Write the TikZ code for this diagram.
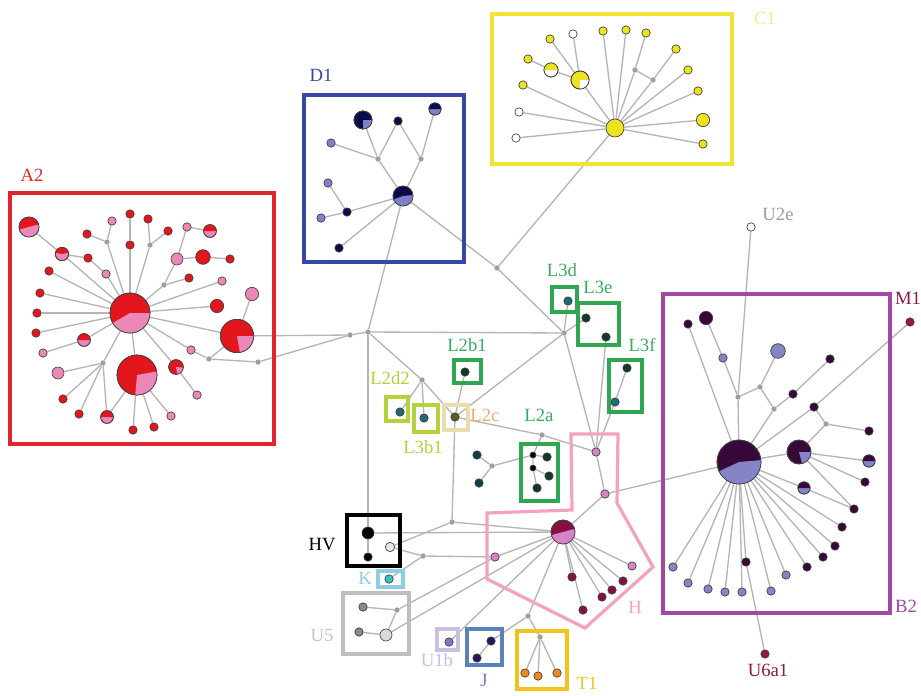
\documentclass[tikz,border=0pt]{standalone}
\usepackage{fontspec}
\setmainfont{Liberation Serif}
\usetikzlibrary{backgrounds}

% haplotype fills
\definecolor{aRed}{HTML}{E3161E}
\definecolor{aPink}{HTML}{EC88B8}
\definecolor{dNavy}{HTML}{0B0B48}
\definecolor{dLav}{HTML}{7F80CC}
\definecolor{cYel}{HTML}{EDE220}
\definecolor{bDark}{HTML}{380838}
\definecolor{bLav}{HTML}{8484C6}
\definecolor{hMar}{HTML}{861043}
\definecolor{hPink}{HTML}{D584C8}
\definecolor{lDark}{HTML}{0E3A27}
\definecolor{lTeal}{HTML}{1D6B74}
\definecolor{lOlive}{HTML}{5D5B1F}
\definecolor{kCyan}{HTML}{35BFC8}
\definecolor{uGrey}{HTML}{8A8A8A}
\definecolor{uLav}{HTML}{7A78C8}
\definecolor{jNavy}{HTML}{2A1660}
\definecolor{tOrange}{HTML}{F08A1E}
\definecolor{mMaroon}{HTML}{9A1540}
% frames
\definecolor{boxA}{HTML}{E0262C}
\definecolor{boxD}{HTML}{3A46A6}
\definecolor{boxC}{HTML}{F2E434}
\definecolor{boxB}{HTML}{A048A4}
\definecolor{boxL}{HTML}{2FA64F}
\definecolor{boxLg}{HTML}{B4D23C}
\definecolor{boxLc}{HTML}{ECDCAC}
\definecolor{boxK}{HTML}{8CCFE0}
\definecolor{boxU}{HTML}{BEBEBE}
\definecolor{boxUb}{HTML}{CCBEE2}
\definecolor{boxJ}{HTML}{5C80BA}
\definecolor{boxT}{HTML}{F4C21C}
\definecolor{boxH}{HTML}{F4A2C2}
% label text
\definecolor{txtC}{HTML}{F4EA84}
\definecolor{txtL}{HTML}{3DAA62}
\definecolor{txtLc}{HTML}{F0AA70}
\definecolor{txtJ}{HTML}{7282B4}
\definecolor{txtU}{HTML}{C4C4C4}
\definecolor{txtM}{HTML}{8C1A48}

\tikzset{
    hap/.style={circle, draw=black!75, line width=0.5pt, inner sep=0pt, minimum size=6.3pt},
    med/.style={circle, fill=gray!75, inner sep=0pt, minimum size=4pt},
    link/.style={draw=gray!58, line width=1pt},
    frame/.style={draw, line width=2.4pt},
    tag/.style={font=\fontsize{14}{16}\selectfont, inner sep=0pt}
}

% pie haplotype: name, position, radius, base colour, wedge colour, start, end
\newcommand{\piehap}[7]{%
    \node[hap, fill=#4, minimum size=2*#3] (#1) at (#2) {};
    \fill[#5] (#1.center) -- ++(#6:#3) arc[start angle=#6, end angle=#7, radius=#3] -- cycle;
    \draw[black!75, line width=0.5pt] (#1.center) circle[radius=#3];
}

\begin{document}
\begin{tikzpicture}[x=0.75pt, y=-0.75pt]
\begin{scope}[on background layer]
    \fill[white] (0,0) rectangle (921,696);
\end{scope}
\useasboundingbox (0,0) rectangle (921,696);

% === A2 ===
\piehap{aHub}{130,313}{15pt}{aRed}{aPink}{-150}{0}
\piehap{aBig}{137,375}{15pt}{aRed}{aPink}{-95}{10}
\piehap{aSide}{237,336}{12.5pt}{aRed}{aPink}{-80}{0}
\piehap{aTop}{29,227}{7.5pt}{aRed}{aPink}{-165}{15}
\piehap{aP1}{62,254}{5pt}{aPink}{aRed}{10}{170}
\piehap{aP2}{210,231}{4.8pt}{aPink}{aRed}{0}{180}
\piehap{aP3}{84,340}{4.8pt}{aPink}{aRed}{0}{180}
\piehap{aP4}{107,417}{4.8pt}{aPink}{aRed}{0}{180}
\piehap{aP5}{176,367}{5.5pt}{aRed}{aPink}{-80}{-5}
\foreach \n/\p/\c in {1/{88,258}/aRed, 2/{87,234}/aRed, 3/{112,221}/aPink, 4/{130,214}/aRed,
    5/{130,245}/aRed, 6/{148,219}/aRed, 7/{168,231}/aRed, 8/{187,227}/aPink, 11/{230,259}/aRed,
    12/{189,278}/aRed, 13/{222,281}/aPink, 14/{106,274}/aPink, 15/{49,271}/aRed, 16/{40,293}/aRed,
    17/{37,313}/aRed, 18/{36,333}/aRed, 21/{43,353}/aPink, 23/{63,399}/aRed, 24/{79,414}/aRed,
    25/{133,430}/aRed, 26/{154,427}/aRed, 27/{171,416}/aPink, 28/{197,395}/aPink, 29/{191,350}/aPink}
    \node[hap, fill=\c] (a\n) at (\p) {};
\node[hap, fill=aPink, minimum size=9pt] (a9) at (177,259) {};
\node[hap, fill=aRed, minimum size=11pt] (a10) at (203,257) {};
\node[hap, fill=aRed, minimum size=10pt] (a19) at (217,306) {};
\node[hap, fill=aPink, minimum size=10pt] (a20) at (252,294) {};
\node[hap, fill=aPink, minimum size=9pt] (a22) at (58,373) {};
\node[med] (am1) at (107,242) {};
\node[med] (am2) at (150,245) {};
\node[med] (am3) at (164,285) {};
\node[med] (am4) at (103,363) {};
\node[med] (am5) at (209,359) {};
\node[med] (am6) at (258,362) {};

% === D1 ===
\piehap{dHub}{403,196}{7.5pt}{dNavy}{dLav}{-160}{5}
\piehap{dP1}{363,120}{6.8pt}{dNavy}{dLav}{-90}{0}
\piehap{dP2}{435,109}{4.6pt}{dLav}{dNavy}{0}{180}
\node[hap, fill=dNavy] (d1) at (398,121) {};
\node[hap, fill=dLav] (d2) at (331,143) {};
\node[hap, fill=dLav] (d3) at (328,183) {};
\node[hap, fill=dNavy] (d4) at (347,212) {};
\node[hap, fill=dLav] (d5) at (321,218) {};
\node[hap, fill=dNavy] (d6) at (339,248) {};
\node[med] (dm1) at (378,159) {};
\node[med] (dm2) at (421,159) {};

% === C1 ===
\node[hap, fill=cYel, minimum size=13.5pt] (cHub) at (615,128) {};
\piehap{cP1}{551,70}{5.3pt}{white}{cYel}{0}{180}
\piehap{cP2}{580,80}{6.8pt}{cYel}{white}{-90}{0}
\foreach \n/\p/\c in {1/{550,39}/cYel, 2/{573,34}/white, 3/{528,59}/cYel, 4/{523,85}/cYel,
    5/{519,112}/white, 6/{516,138}/white, 7/{603,31}/cYel, 8/{626,30}/cYel, 9/{646,33}/cYel,
    10/{676,49}/cYel, 11/{688,70}/cYel, 12/{698,91}/cYel, 14/{703,144}/cYel}
    \node[hap, fill=\c] (c\n) at (\p) {};
\node[hap, fill=cYel, minimum size=10pt] (c13) at (703,120) {};
\node[med] (cq1) at (635,70) {};
\node[med] (cq2) at (653,80) {};

% === central medians and L ===
\node[med] (g1) at (350,335) {};
\node[med] (g0) at (368,332) {};
\node[med] (g3) at (564,333) {};
\node[med] (g4) at (422,380) {};
\node[med] (g5) at (452,522) {};
\node[med] (g6) at (542,435) {};
\node[med] (g7) at (492,466) {};
\node[med] (g8) at (497,268) {};
\node[med] (g9) at (423,556) {};
\node[hap, fill=lTeal] (l2d2n) at (400,412) {};
\node[hap, fill=lTeal] (l3b1n) at (424,418) {};
\node[hap, fill=lOlive] (l2cn) at (455,417) {};
\node[hap, fill=lDark] (l2b1n) at (465,372) {};
\node[hap, fill=lTeal] (l3dn) at (568,301) {};
\node[hap, fill=lDark] (l3e1) at (586,318) {};
\node[hap, fill=lDark] (l3e2) at (606,337) {};
\node[hap, fill=lDark] (l3f1) at (627,368) {};
\node[hap, fill=lTeal] (l3f2) at (615,402) {};
\node[hap, fill=black, minimum size=4.5pt] (l2a1) at (533,455) {};
\node[hap, fill=black, minimum size=4.5pt] (l2a2) at (533,468) {};
\node[hap, fill=lDark] (l2a3) at (547,457) {};
\node[hap, fill=lDark] (l2a4) at (549,476) {};
\node[hap, fill=lDark] (l2a5) at (537,488) {};
\node[hap, fill=lTeal!60!black] (lx1) at (477,455) {};
\node[hap, fill=lTeal!60!black] (lx2) at (479,483) {};

% === H, HV, K, U5, U1b, J, T1 ===
\piehap{hHub}{563,532}{9pt}{hMar}{hPink}{-165}{15}
\node[hap, fill=hPink] (hP1) at (596,452) {};
\node[hap, fill=hPink] (hP2) at (605,494) {};
\node[hap, fill=hPink] (hPk) at (495,557) {};
\foreach \n/\p in {1/{572,577}, 2/{583,610}, 3/{602,597}, 4/{612,590}, 5/{623,581}}
    \node[hap, fill=hMar] (h\n) at (\p) {};
\node[hap, fill=hPink] (h6) at (632,566) {};
\node[hap, fill=black, minimum size=9pt] (hvBig) at (368,533) {};
\node[hap, fill=black] (hvSm) at (368,557) {};
\node[hap, fill=gray!20, minimum size=7pt] (hvW) at (390,547) {};
\node[hap, fill=kCyan] (kn) at (389,579) {};
\node[hap, fill=uGrey] (u5a) at (363,607) {};
\node[hap, fill=uGrey] (u5b) at (359,632) {};
\node[hap, fill=gray!30, minimum size=9pt] (u5c) at (386,635) {};
\node[med] (g10) at (397,610) {};
\node[hap, fill=uLav] (u1n) at (449,642) {};
\node[hap, fill=jNavy] (j1) at (491,641) {};
\node[hap, fill=jNavy] (j2) at (477,658) {};
\node[med] (g11) at (528,616) {};
\node[med] (g12) at (540,637) {};
\node[hap, fill=tOrange] (t1) at (525,673) {};
\node[hap, fill=tOrange] (t2) at (538,676) {};
\node[hap, fill=tOrange] (t3) at (557,673) {};

% === B2 ===
\piehap{bHub}{739,462}{16.5pt}{bDark}{bLav}{-155}{5}
\piehap{bHub2}{799,452}{9pt}{bDark}{bLav}{-75}{0}
\piehap{bP1}{869,461}{4.6pt}{bLav}{bDark}{0}{180}
\piehap{bP2}{804,488}{4.6pt}{bLav}{bDark}{0}{180}
\foreach \n/\p/\c in {1/{688,324}/bDark, 3/{723,358}/bLav, 5/{793,394}/bDark, 6/{830,359}/bDark,
    7/{814,407}/bDark, 8/{869,431}/bDark, 9/{865,482}/bDark, 10/{854,509}/bDark, 11/{842,527}/bDark,
    12/{835,546}/bDark, 13/{823,557}/bDark, 14/{807,567}/bDark, 15/{786,575}/bLav, 16/{771,591}/bLav,
    17/{746,562}/bDark, 18/{742,592}/bLav, 19/{725,592}/bLav, 20/{708,589}/bLav, 21/{688,583}/bLav,
    22/{673,567}/bLav}
    \node[hap, fill=\c] (b\n) at (\p) {};
\node[hap, fill=bDark, minimum size=10pt] (b2) at (706,318) {};
\node[hap, fill=bLav, minimum size=11pt] (b4) at (778,351) {};
\node[med] (bm1) at (738,397) {};
\node[med] (bm2) at (760,387) {};
\node[med] (bm3) at (774,409) {};
\node[med] (bm4) at (826,424) {};
\node[hap, fill=mMaroon] (m1n) at (910,322) {};
\node[hap, fill=mMaroon] (u6n) at (765,654) {};
\node[hap, fill=white] (u2n) at (751,227) {};

% === connectors ===
\begin{scope}[on background layer]
    % A2
    \draw[link] (aTop) -- (aP1) -- (aHub);
    \draw[link] (aP1) -- (a1) -- (a14) -- (aHub);
    \draw[link] (a2) -- (am1) -- (aHub);
    \draw[link] (a3) -- (am1);
    \draw[link] (a4) -- (a5) -- (aHub);
    \draw[link] (a6) -- (am2) -- (aHub);
    \draw[link] (a7) -- (am2);
    \draw[link] (aP2) -- (a8) -- (a9) -- (a10) -- (a11);
    \draw[link] (a9) -- (am3) -- (aHub);
    \draw[link] (a12) -- (am3);
    \foreach \n in {13,15,16,17,18,19}
        \draw[link] (a\n) -- (aHub);
    \draw[link] (aHub) -- (aSide) -- (a20);
    \draw[link] (a21) -- (aP3) -- (aHub);
    \foreach \n in {22,23,24}
        \draw[link] (a\n) -- (am4);
    \draw[link] (aP4) -- (am4) -- (aHub);
    \draw[link] (aP4) -- (aBig) -- (aHub);
    \foreach \n in {25,26,27}
        \draw[link] (aBig) -- (a\n);
    \draw[link] (aHub) -- (aP5) -- (a28);
    \draw[link] (aHub) -- (a29) -- (am5) -- (aSide);
    \draw[link] (am5) -- (am6) -- (g1);
    \draw[link] (aSide) -- (g1) -- (g0);
    % D1
    \draw[link] (dP1) -- (dm1) -- (dHub);
    \draw[link] (d2) -- (dm1) -- (d1) -- (dm2) -- (dHub);
    \draw[link] (dP2) -- (dm2);
    \draw[link] (dHub) -- (d4) -- (d3);
    \draw[link] (d4) -- (d5);
    \draw[link] (dHub) -- (d6);
    % C1
    \draw[link] (c1) -- (cP2) -- (cHub);
    \draw[link] (c2) -- (cP2) -- (cP1) -- (c3);
    \foreach \n in {4,5,6,7,8,11,12,13,14}
        \draw[link] (c\n) -- (cHub);
    \draw[link] (c9) -- (cq1) -- (cHub);
    \draw[link] (c10) -- (cq2) -- (cHub);
    \draw[link] (cq1) -- (cq2);
    % centre
    \draw[link] (dHub) -- (g0) -- (g3);
    \draw[link] (dHub) -- (g8) -- (g3);
    \draw[link] (g8) -- (cHub);
    \draw[link] (g0) -- (hvBig) -- (hvSm);
    \draw[link] (g0) -- (g4) -- (l2d2n);
    \draw[link] (g4) -- (l3b1n);
    \draw[link] (g4) -- (l2cn) -- (l2b1n);
    \draw[link] (l2cn) -- (g3);
    \draw[link] (l2cn) -- (g5);
    \draw[link] (l2cn) -- (g6) -- (hP1);
    \draw[link] (g6) -- (l2a1) -- (l2a2) -- (l2a4);
    \draw[link] (l2a1) -- (l2a3);
    \draw[link] (l2a2) -- (l2a5);
    \draw[link] (lx1) -- (g7) -- (lx2);
    \draw[link] (g7) -- (l2a1);
    \draw[link] (g3) -- (l3dn);
    \draw[link] (g3) -- (l3e1);
    \draw[link] (g3) -- (hP1);
    \draw[link] (l3e2) -- (hP1);
    \draw[link] (l3f1) -- (l3f2) -- (hP1);
    \draw[link] (hP1) -- (hP2) -- (hHub);
    \draw[link] (hP2) -- (bHub);
    % H and the lower groups
    \draw[link] (hvBig) -- (hHub);
    \draw[link] (g5) -- (hvW) -- (g9) -- (hPk) -- (hHub);
    \draw[link] (g5) -- (hHub);
    \draw[link] (kn) -- (g9);
    \draw[link] (u5a) -- (g10) -- (u5c) -- (u5b);
    \draw[link] (g10) -- (hPk);
    \draw[link] (u5c) -- (hHub);
    \draw[link] (u1n) -- (hHub);
    \draw[link] (j2) -- (j1) -- (g11) -- (hHub);
    \draw[link] (g11) -- (g12);
    \foreach \n in {1,2,3}
        \draw[link] (g12) -- (t\n);
    \foreach \n in {1,...,6}
        \draw[link] (hHub) -- (h\n);
    % B2
    \draw[link] (b1) -- (bHub);
    \draw[link] (b2) -- (b3) -- (bm1) -- (bHub);
    \draw[link] (u2n) -- (bm1) -- (bm2) -- (b4);
    \draw[link] (bm2) -- (bm3) -- (b5) -- (b6);
    \draw[link] (bm3) -- (bHub);
    \draw[link] (bHub) -- (b7) -- (m1n);
    \draw[link] (b7) -- (bm4) -- (b8);
    \draw[link] (bm4) -- (bHub2);
    \draw[link] (bHub) -- (bHub2);
    \foreach \n in {bP1,b9,b10}
        \draw[link] (bHub2) -- (\n);
    \draw[link] (bHub) -- (bP2) -- (b10);
    \foreach \n in {11,...,22}
        \draw[link] (bHub) -- (b\n);
    \draw[link] (b17) -- (u6n);
\end{scope}

% === frames ===
\draw[frame, boxA, line width=2.6pt] (10,193) rectangle (274,444);
\draw[frame, boxD, line width=2.6pt] (304,95) rectangle (464,262);
\draw[frame, boxC, line width=2.8pt] (492,14) rectangle (732,164);
\draw[frame, boxB] (663,294) rectangle (890,613);
\draw[frame, boxL] (552,287) rectangle (577,312);
\draw[frame, boxL] (578,303) rectangle (619,345);
\draw[frame, boxL] (609,360) rectangle (642,412);
\draw[frame, boxL] (454,360) rectangle (481,383);
\draw[frame, boxL] (521,444) rectangle (558,501);
\draw[frame, boxLg] (386,397) rectangle (408,421);
\draw[frame, boxLg] (414,405) rectangle (438,432);
\draw[frame, boxLc] (444,405) rectangle (468,430);
\draw[frame, black, line width=2.6pt] (347,515) rectangle (400,566);
\draw[frame, boxK] (378,571) rectangle (403,587);
\draw[frame, boxU] (343,593) rectangle (409,654);
\draw[frame, boxUb] (437,629) rectangle (458,650);
\draw[frame, boxJ] (467,629) rectangle (502,665);
\draw[frame, boxT] (517,631) rectangle (567,689);
\draw[frame, boxH] (487,513) -- (572,510) -- (571,434) -- (618,434) -- (617,503)
    -- (653,567) -- (585,628) -- (487,579) -- cycle;

% === labels ===
\node[tag, text=boxA] (tA2) at (32,175) {A2};
\node[tag, text=boxD] (tD1) at (321,75) {D1};
\node[tag, text=txtC] (tC1) at (765,18) {C1};
\node[tag, text=txtL] (tL3d) at (562,270) {L3d};
\node[tag, text=txtL] (tL3e) at (598,287) {L3e};
\node[tag, text=txtL] (tL3f) at (642,345) {L3f};
\node[tag, text=txtL] (tL2b1) at (467,345) {L2b1};
\node[tag, text=txtL] (tL2a) at (539,415) {L2a};
\node[tag, text=boxLg] (tL2d2) at (390,378) {L2d2};
\node[tag, text=boxLg] (tL3b1) at (423,447) {L3b1};
\node[tag, text=txtLc] (tL2c) at (485,415) {L2c};
\node[tag, text=black] (tHV) at (322,545) {HV};
\node[tag, text=boxK] (tK) at (365,578) {K};
\node[tag, text=txtU] (tU5) at (322,635) {U5};
\node[tag, text=boxUb] (tU1b) at (437,660) {U1b};
\node[tag, text=txtJ] (tJ) at (484,680) {J};
\node[tag, text=boxT] (tT1) at (587,683) {T1};
\node[tag, text=boxH] (tH) at (635,607) {H};
\node[tag, text=boxB] (tB2) at (906,606) {B2};
\node[tag, text=txtM] (tM1) at (908,298) {M1};
\node[tag, text=txtM] (tU6a1) at (768,670) {U6a1};
\node[tag, text=txtU!80!black] (tU2e) at (778,214) {U2e};
\end{tikzpicture}
\end{document}
